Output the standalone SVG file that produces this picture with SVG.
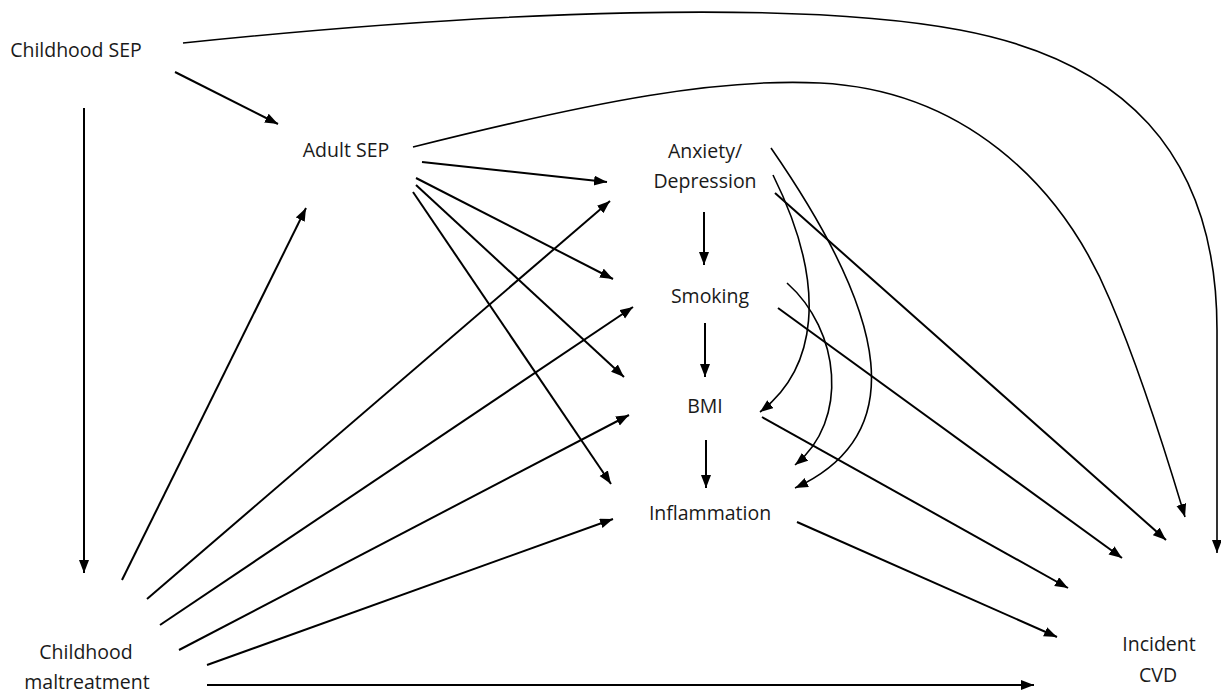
<svg xmlns="http://www.w3.org/2000/svg" width="1221" height="695" viewBox="0 0 1221 695">
<defs>
<marker id="ah" markerUnits="userSpaceOnUse" markerWidth="14" markerHeight="11" refX="13" refY="5" orient="auto">
<path d="M0,0 L13,5 L0,10 z" fill="#000"/>
</marker>
<style>
.lbl{font-family:"Open Sans","Liberation Sans",sans-serif;font-size:19.5px;fill:#1a1a1a;text-anchor:middle}
.e{fill:none;stroke:#000;stroke-width:2;marker-end:url(#ah)}
.c{fill:none;stroke:#000;stroke-width:1.6;marker-end:url(#ah)}
</style>
</defs>
<rect width="1221" height="695" fill="#fff"/>
<g id="connectors">
<path class="c" d="M183,43 C500,10 800,0 960,30 C1120,60 1217,150 1217,330 L1217,553"/>
<path class="c" d="M413,147 C600,100 720,78 820,83 C960,90 1060,180 1110,300 C1140,370 1165,450 1185,517"/>
<path class="e" d="M175,72 L278,124"/>
<path class="e" d="M84,108 L84,573"/>
<path class="e" d="M122,580 L306,208"/>
<path class="e" d="M147,599 L610,201"/>
<path class="e" d="M160,625 L633,307"/>
<path class="e" d="M179,650 L629,415"/>
<path class="e" d="M207,665 L613,519"/>
<path class="e" d="M207,685 L1034,685"/>
<path class="e" d="M422,162 L607,182"/>
<path class="e" d="M416,178 L613,279"/>
<path class="e" d="M416,185 L624,377"/>
<path class="e" d="M413,192 L611,484"/>
<path class="e" d="M704,212 L704,265"/>
<path class="e" d="M705,323 L705,377"/>
<path class="e" d="M706,440 L706,488"/>
<path class="c" d="M773,175 C830,290 815,370 760,412"/>
<path class="c" d="M771,148 C890,320 910,435 795,488"/>
<path class="c" d="M787,283 C840,330 850,420 795,465"/>
<path class="e" d="M775,193 L1166,540"/>
<path class="e" d="M778,308 L1122,558"/>
<path class="e" d="M762,417 L1068,588"/>
<path class="e" d="M797,522 L1057,637"/>
</g>
<g id="node-childhood-sep"><text class="lbl" x="76" y="57">Childhood SEP</text></g>
<g id="node-adult-sep"><text class="lbl" x="346" y="157">Adult SEP</text></g>
<g id="node-anxiety"><text class="lbl" x="705" y="158">Anxiety/</text><text class="lbl" x="705" y="188">Depression</text></g>
<g id="node-smoking"><text class="lbl" x="710" y="303">Smoking</text></g>
<g id="node-bmi"><text class="lbl" x="705" y="413">BMI</text></g>
<g id="node-inflammation"><text class="lbl" x="710" y="520">Inflammation</text></g>
<g id="node-maltreatment"><text class="lbl" x="86" y="659">Childhood</text><text class="lbl" x="87" y="689">maltreatment</text></g>
<g id="node-cvd"><text class="lbl" x="1159" y="651">Incident</text><text class="lbl" x="1158" y="682">CVD</text></g>
</svg>
